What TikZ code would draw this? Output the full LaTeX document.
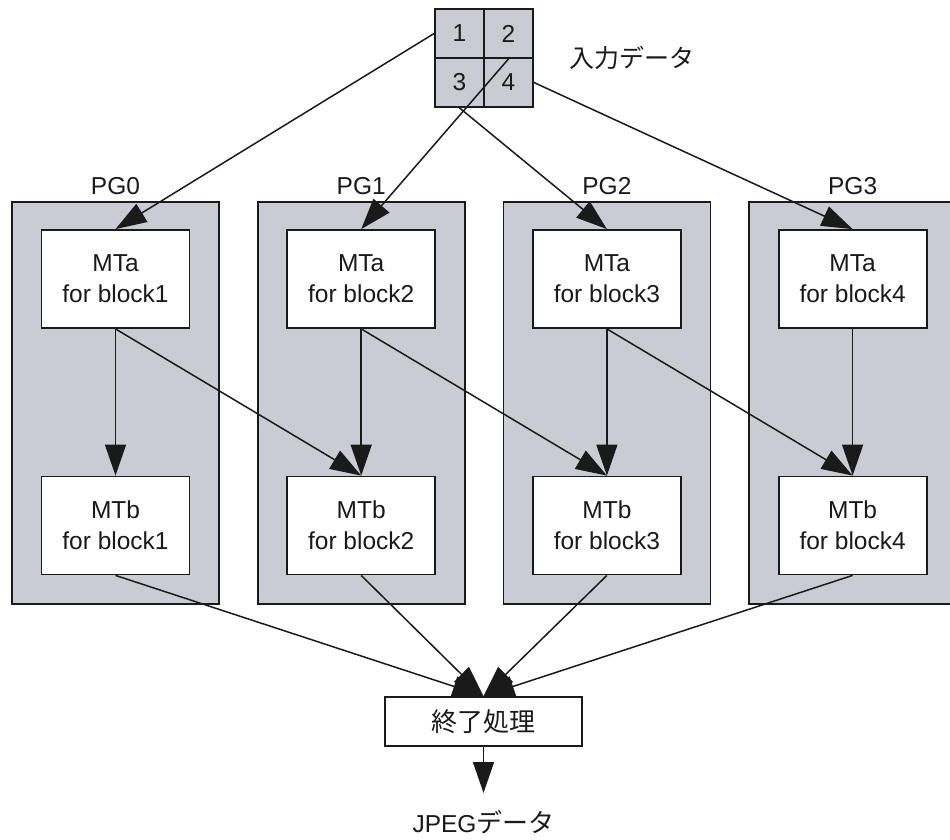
\documentclass[tikz,border=0pt]{standalone}
\usepackage{fontspec}
\setmainfont{Liberation Sans}
\newfontfamily\jpfont{Noto Sans CJK JP}
\usetikzlibrary{arrows.meta}
\definecolor{ink}{HTML}{1A1A1A}
\definecolor{pgfill}{HTML}{C9CCD3}

\begin{document}
\begin{tikzpicture}[x=1pt,y=-1pt,>={Triangle[length=31pt,width=21pt]},
  font=\fontsize{24.5}{31}\selectfont,text=ink,
  pgbox/.style={draw=ink,line width=1.8pt,fill=pgfill,minimum width=207pt,minimum height=402pt},
  taskbox/.style={draw=ink,line width=1.8pt,fill=white,minimum width=148pt,minimum height=98pt,align=center,inner sep=0pt},
  cell/.style={draw=ink,line width=1.8pt,fill=pgfill,minimum size=49pt,inner sep=0pt},
  conn/.style={->,draw=ink,line width=1.5pt}]
  \useasboundingbox (0,0) rectangle (950,839);
  % input data, split into four blocks
  \node[cell] (c1) at (459.5,33.5) {1};
  \node[cell] (c2) at (508.5,33.5) {2};
  \node[cell] (c3) at (459.5,82.5) {3};
  \node[cell] (c4) at (508.5,82.5) {4};
  \node[font=\jpfont\fontsize{25}{30}\selectfont] (indata) at (632,58) {入力データ};
  % processor groups
  \foreach \i [evaluate=\i as \x using 115.5+245.7*\i,
               evaluate=\i as \b using int(\i+1)] in {0,...,3} {
    \node[pgbox] (pg\i) at (\x,403) {};
    \node (pglabel\i) at (\x,186) {PG\i};
    \node[taskbox] (mta\i) at (\x,279) {MTa\\for block\b};
    \node[taskbox] (mtb\i) at (\x,525.5) {MTb\\for block\b};
    \draw[conn] (mta\i.south) -- (mtb\i.north);
  }
  \foreach \i/\j in {0/1,1/2,2/3}
    \draw[conn] (mta\i.south) -- (mtb\j.north);
  \draw[conn] (c1.west) -- (mta0.north);
  \draw[conn] (c2.south) -- (mta1.north);
  \draw[conn] (c3.south) -- (mta2.north);
  \draw[conn] (c4.east) -- (mta3.north);
  % final stage
  \node[draw=ink,line width=1.8pt,fill=white,minimum width=197pt,minimum height=49pt,
    font=\jpfont\fontsize{26}{30}\selectfont] (fin) at (483.5,721.5) {終了処理};
  \foreach \i in {0,...,3}
    \draw[conn] (mtb\i.south) -- (fin.north);
  \coordinate (outend) at (483.5,793);
  \draw[conn] (fin.south) -- (outend);
  \node (jpeg) at (483.5,822) {JPEG{\jpfont\fontsize{26}{30}\selectfont データ}};
\end{tikzpicture}
\end{document}
